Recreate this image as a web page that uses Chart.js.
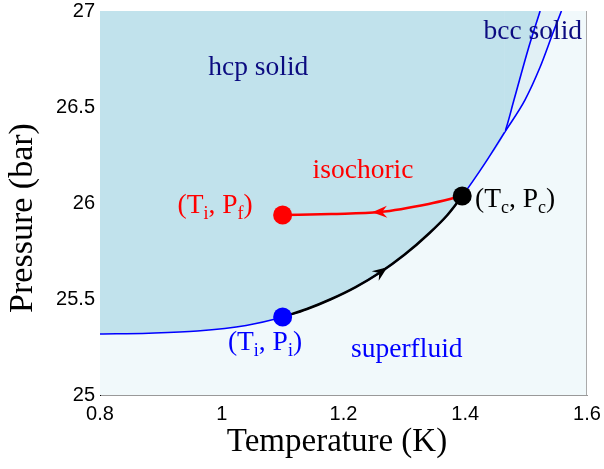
<!DOCTYPE html>
<html><head><meta charset="utf-8">
<script src="https://cdn.jsdelivr.net/npm/chart.js@4"></script>
<style>html,body{margin:0;padding:0;background:#fff}canvas{display:block}</style>
</head><body>
<canvas id="c" width="604" height="469"></canvas>
<script>
// ---- data ----
const xTickVals = [0.8, 1.0, 1.2, 1.4, 1.6];
const xTickLabels = ['0.8', '1', '1.2', '1.4', '1.6'];
const yTickVals = [25, 25.5, 26, 26.5, 27];
const yTickLabels = ['25', '25.5', '26', '26.5', '27'];

// melting curve (superfluid / hcp) up to the triple point
const meltT = [0.8, 0.88, 0.96, 1.04, 1.1, 1.14, 1.18, 1.22, 1.26, 1.30, 1.34, 1.37, 1.395, 1.432, 1.465];
const meltP = [25.318, 25.322, 25.333, 25.362, 25.406, 25.448, 25.50, 25.562, 25.638, 25.73, 25.84, 25.935, 26.036, 26.205, 26.37];
// hcp / bcc boundary
const hbT = [1.465, 1.480, 1.503, 1.523];
const hbP = [26.37, 26.536, 26.797, 27.0];
// bcc / superfluid boundary
const bsT = [1.465, 1.498, 1.523, 1.544, 1.558];
const bsP = [26.37, 26.536, 26.708, 26.885, 27.0];
// path along melting curve from (Ti,Pi) to (Tc,Pc)
const pathT = [1.1, 1.14, 1.18, 1.22, 1.26, 1.30, 1.34, 1.37, 1.395];
const pathP = [25.406, 25.448, 25.50, 25.562, 25.638, 25.73, 25.84, 25.935, 26.036];
// isochoric path from (Tc,Pc) to (Ti,Pf)
const isoT = [1.1, 1.18, 1.26, 1.34, 1.395];
const isoP = [25.9375, 25.943, 25.953, 25.995, 26.036];
// marked states
const ptiT = [1.1], ptiP = [25.406];
const ptfT = [1.1], ptfP = [25.9375];
const ptcT = [1.395], ptcP = [26.036];

// ---- helpers ----
const pts = (T, P) => T.map((t, i) => ({x: t, y: P[i]}));
const C_HCP = '#c1e2ec', C_BCC = '#e1f0f5', C_SF = '#f1f9fb';

function interp(T, P, t) {
  for (let i = 0; i < T.length - 1; i++) {
    if (t >= T[i] && t <= T[i + 1]) {
      const f = (t - T[i]) / (T[i + 1] - T[i]);
      return P[i] + f * (P[i + 1] - P[i]);
    }
  }
  return P[P.length - 1];
}

const arrows = [
  {at: 1.272, src: 'path', dir: 1, color: '#000'},
  {at: 1.247, src: 'iso', dir: -1, color: '#ff0000'}
];
const srcs = {path: [pathT, pathP], iso: [isoT, isoP]};

const labels = [
  {parts: [['hcp solid', 0]], T: 1.06, P: 26.667, color: '#0b0b80', align: 'center'},
  {parts: [['bcc solid', 0]], T: 1.511, P: 26.854, color: '#0b0b80', align: 'center'},
  {parts: [['isochoric', 0]], T: 1.232, P: 26.13, color: '#ff0000', align: 'center'},
  {parts: [['superfluid', 0]], T: 1.304, P: 25.198, color: '#0000ff', align: 'center'},
  {parts: [['(T', 0], ['i', 1], [', P', 0], ['i', 1], [')', 0]], T: 1.071, P: 25.234, color: '#0000ff', align: 'center'},
  {parts: [['(T', 0], ['i', 1], [', P', 0], ['f', 1], [')', 0]], T: 0.989, P: 25.948, color: '#ff0000', align: 'center'},
  {parts: [['(T', 0], ['c', 1], [', P', 0], ['c', 1], [')', 0]], T: 1.416, P: 25.979, color: '#000000', align: 'left'}
];

function drawArrowHead(ctx, x, y, ang, color) {
  const L = 15, W = 6, N = 10;
  ctx.save();
  ctx.translate(x, y);
  ctx.rotate(ang);
  ctx.fillStyle = color;
  ctx.beginPath();
  ctx.moveTo(0, 0);
  ctx.lineTo(-L, -W);
  ctx.lineTo(-N, 0);
  ctx.lineTo(-L, W);
  ctx.closePath();
  ctx.fill();
  ctx.restore();
}

const deco = {
  id: 'deco',
  beforeDatasetsDraw(chart) {
    const {ctx, chartArea: a} = chart;
    ctx.save();
    ctx.fillStyle = C_SF;
    ctx.fillRect(a.left, a.top, a.right - a.left, a.bottom - a.top);
    ctx.restore();
  },
  afterDatasetsDraw(chart) {
    const {ctx, chartArea: a} = chart;
    ctx.save();
    ctx.strokeStyle = '#aaaaaa';
    ctx.lineWidth = 1;
    ctx.beginPath();
    ctx.moveTo(a.right - 0.5, a.top);
    ctx.lineTo(a.right - 0.5, a.bottom);
    ctx.stroke();
    ctx.restore();
  },
  afterDraw(chart) {
    const {ctx, chartArea: a, scales: {x, y}} = chart;
    arrows.forEach(ar => {
      const [T, P] = srcs[ar.src];
      const t = ar.at;
      const px = x.getPixelForValue(t), py = y.getPixelForValue(interp(T, P, t));
      const t2 = t - 0.012 * ar.dir;
      const qx = x.getPixelForValue(t2), qy = y.getPixelForValue(interp(T, P, t2));
      drawArrowHead(ctx, px, py, Math.atan2(py - qy, px - qx), ar.color);
    });
    labels.forEach(l => {
      const big = '27.5px "Liberation Serif", "Times New Roman", serif';
      const small = '18px "Liberation Serif", "Times New Roman", serif';
      let w = 0;
      l.parts.forEach(([s, sub]) => { ctx.font = sub ? small : big; w += ctx.measureText(s).width; });
      let cx = x.getPixelForValue(l.T);
      const cy = y.getPixelForValue(l.P);
      if (l.align === 'center') cx -= w / 2;
      ctx.save();
      ctx.fillStyle = l.color;
      ctx.textBaseline = 'alphabetic';
      ctx.textAlign = 'left';
      l.parts.forEach(([s, sub]) => {
        ctx.font = sub ? small : big;
        ctx.fillText(s, cx, cy + (sub ? 6 : 0));
        cx += ctx.measureText(s).width;
      });
      ctx.restore();
    });
    ctx.save();
    ctx.fillStyle = '#000';
    ctx.font = '33px "Liberation Serif", "Times New Roman", serif';
    ctx.textAlign = 'center';
    ctx.textBaseline = 'middle';
    ctx.fillText('Temperature (K)', 337, 442);
    ctx.translate(23, 218);
    ctx.rotate(-Math.PI / 2);
    ctx.font = '34px "Liberation Serif", "Times New Roman", serif';
    ctx.fillText('Pressure (bar)', 0, 0);
    ctx.restore();
  }
};

const lineDs = (data, color, width, extra) => Object.assign({
  data, borderColor: color, borderWidth: width, pointRadius: 0, fill: false,
  cubicInterpolationMode: 'monotone'
}, extra || {});
const pointDs = (data, color) => ({
  data, showLine: false, pointRadius: 9.5, pointBackgroundColor: color, pointBorderColor: color, pointBorderWidth: 0
});
// hide the leading segments that only overlap the melting curve (used for fill continuity)
const hideBefore = n => ({borderColor: c => (c.p0DataIndex < n ? 'rgba(0,0,0,0)' : undefined)});

const lead = 2;
const stT = meltT.slice(-lead - 1).concat(hbT.slice(1));
const stP = meltP.slice(-lead - 1).concat(hbP.slice(1));
const bccT = meltT.slice(-lead - 1).concat(bsT.slice(1));
const bccP = meltP.slice(-lead - 1).concat(bsP.slice(1));

new Chart(document.getElementById('c'), {
  type: 'line',
  data: {
    datasets: [
      pointDs(pts(ptcT, ptcP), '#000000'),
      pointDs(pts(ptfT, ptfP), '#ff0000'),
      pointDs(pts(ptiT, ptiP), '#0000ff'),
      lineDs(pts(isoT, isoP), '#ff0000', 2.5),
      lineDs(pts(pathT, pathP), '#000000', 2.5),
      lineDs(pts(meltT, meltP), '#0000ff', 1.6, {fill: 'end', backgroundColor: C_HCP}),
      lineDs(pts(stT, stP), '#0000ff', 1.6, {fill: 'end', backgroundColor: C_HCP, segment: hideBefore(lead)}),
      lineDs(pts(bccT, bccP), '#0000ff', 1.6, {fill: 'end', backgroundColor: C_BCC, segment: hideBefore(lead)})
    ]
  },
  options: {
    responsive: false,
    animation: false,
    events: [],
    layout: {padding: {top: 11, right: 17, left: 0, bottom: 0}},
    plugins: {legend: {display: false}, tooltip: {enabled: false}, filler: {propagate: false}},
    scales: {
      x: {
        type: 'linear', min: 0.8, max: 1.6,
        afterBuildTicks: s => { s.ticks = xTickVals.map(v => ({value: v})); },
        afterFit: s => { s.height = 74; s.paddingLeft = 0; s.paddingRight = 0; },
        grid: {display: false, drawTicks: false},
        border: {display: true, color: '#999999', width: 1},
        ticks: {
          padding: 7, color: '#000', maxRotation: 0, autoSkip: false,
          font: {family: '"Liberation Sans", Arial, sans-serif', size: 20},
          callback: v => { const i = xTickVals.findIndex(t => Math.abs(t - v) < 1e-9); return i >= 0 ? xTickLabels[i] : ''; }
        }
      },
      y: {
        type: 'linear', min: 25, max: 27,
        afterBuildTicks: s => { s.ticks = yTickVals.map(v => ({value: v})); },
        afterFit: s => { s.width = 100; s.paddingTop = 0; s.paddingBottom = 0; },
        grid: {display: false, drawTicks: false},
        border: {display: true, color: '#000000', width: 1},
        ticks: {
          padding: 5, color: '#000', autoSkip: false,
          font: {family: '"Liberation Sans", Arial, sans-serif', size: 20},
          callback: v => { const i = yTickVals.findIndex(t => Math.abs(t - v) < 1e-9); return i >= 0 ? yTickLabels[i] : ''; }
        }
      }
    }
  },
  plugins: [deco]
});
</script>
</body></html>
